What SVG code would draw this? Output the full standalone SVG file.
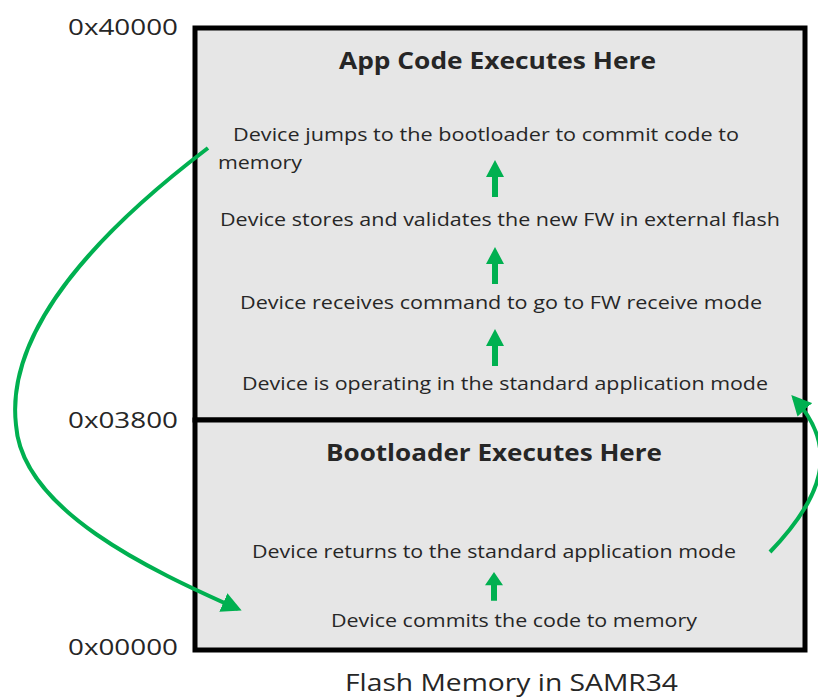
<svg xmlns="http://www.w3.org/2000/svg" width="818" height="697" viewBox="0 0 818 697">
  <style>
    .t { font-family: "Open Sans", "Liberation Sans", sans-serif; fill: #262626; }
    .body { font-size: 19px; }
    .title { font-size: 23px; font-weight: bold; }
    .addr { font-size: 21px; }
    .cap { font-size: 23px; }
    .flow { stroke: #00b050; stroke-width: 4; fill: none; }
  </style>
  <defs>
    <marker id="head" viewBox="0 0 10 10" refX="8" refY="5" markerWidth="5" markerHeight="5" orient="auto" markerUnits="strokeWidth">
      <path d="M0,0 L10,5 L0,10 z" fill="#00b050"/>
    </marker>
    <path id="up" d="M-3,37 L-3,17 L-9,17 L0,0 L9,17 L3,17 L3,37 z" fill="#00b050"/>
  </defs>

  <rect width="818" height="697" fill="#ffffff"/>

  <!-- flash memory map -->
  <g id="app-region">
    <rect x="195" y="28" width="610" height="392" fill="#e6e6e6" stroke="#000" stroke-width="5"/>
    <text class="t title" x="339" y="69" textLength="317" lengthAdjust="spacingAndGlyphs">App Code Executes Here</text>
  </g>
  <g id="boot-region">
    <rect x="195" y="420" width="610" height="230" fill="#e6e6e6" stroke="#000" stroke-width="5"/>
    <text class="t title" x="326" y="461" textLength="336" lengthAdjust="spacingAndGlyphs">Bootloader Executes Here</text>
  </g>

  <!-- address labels -->
  <g id="addresses">
    <text class="t addr" x="68" y="35" textLength="110" lengthAdjust="spacingAndGlyphs">0x40000</text>
    <text class="t addr" x="68" y="428" textLength="110" lengthAdjust="spacingAndGlyphs">0x03800</text>
    <text class="t addr" x="68" y="655" textLength="110" lengthAdjust="spacingAndGlyphs">0x00000</text>
  </g>

  <!-- steps -->
  <g id="step-jump">
    <text class="t body" x="233" y="141" textLength="506" lengthAdjust="spacingAndGlyphs">Device jumps to the bootloader to commit code to</text>
    <text class="t body" x="218" y="169" textLength="84" lengthAdjust="spacingAndGlyphs">memory</text>
  </g>
  <g id="step-store">
    <text class="t body" x="220" y="226" textLength="560" lengthAdjust="spacingAndGlyphs">Device stores and validates the new FW in external flash</text>
  </g>
  <g id="step-receive">
    <text class="t body" x="240" y="309" textLength="522" lengthAdjust="spacingAndGlyphs">Device receives command to go to FW receive mode</text>
  </g>
  <g id="step-operate">
    <text class="t body" x="242" y="390" textLength="526" lengthAdjust="spacingAndGlyphs">Device is operating in the standard application mode</text>
  </g>
  <g id="step-return">
    <text class="t body" x="252" y="558" textLength="484" lengthAdjust="spacingAndGlyphs">Device returns to the standard application mode</text>
  </g>
  <g id="step-commit">
    <text class="t body" x="331" y="627" textLength="366" lengthAdjust="spacingAndGlyphs">Device commits the code to memory</text>
  </g>

  <g id="caption">
    <text class="t cap" x="345" y="691" textLength="333" lengthAdjust="spacingAndGlyphs">Flash Memory in SAMR34</text>
  </g>

  <!-- connectors -->
  <g id="connectors">
    <use href="#up" x="495" y="160"/>
    <use href="#up" x="495" y="247"/>
    <use href="#up" x="495" y="329"/>
    <use href="#up" x="494" y="572" transform="translate(494 572) scale(1 0.78) translate(-494 -572)"/>
    <path class="flow" d="M208,148 C100,230 5,330 16,425 C22,510 150,570 238,609" marker-end="url(#head)"/>
    <path class="flow" d="M770,552 C820,500 842,450 794,398" marker-end="url(#head)"/>
  </g>
</svg>
